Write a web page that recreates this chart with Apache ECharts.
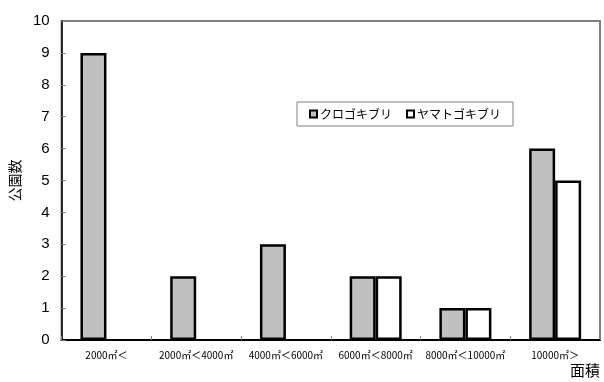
<!DOCTYPE html>
<html>
<head>
<meta charset="utf-8">
<script src="https://cdn.jsdelivr.net/npm/echarts@6/dist/echarts.min.js"></script>
<style>
  html, body { margin: 0; padding: 0; background: #fff; }
  #chart { width: 604px; height: 382px; }
</style>
</head>
<body>
<div id="chart"></div>
<script>
// Park counts by park area for two cockroach species
const areaCategories = ['2000㎡＜', '2000㎡＜4000㎡', '4000㎡＜6000㎡', '6000㎡＜8000㎡', '8000㎡＜10000㎡', '10000㎡＞'];
const kurogokiburi = [9, 2, 3, 2, 1, 6];
const yamatogokiburi = [0, 0, 0, 2, 1, 5];
const seriesNames = ['クロゴキブリ', 'ヤマトゴキブリ'];
const yAxisName = '公園数';
const xAxisName = '面積';

// a count of zero has no bar, so leave it empty instead of drawing a flat outline
const asBars = arr => arr.map(v => (v === 0 ? '-' : v));

const chart = echarts.init(document.getElementById('chart'));
const latin = '"Liberation Sans", Arial, sans-serif';
const cjk = '"Noto Sans CJK JP", sans-serif';

chart.setOption({
  animation: false,
  textStyle: { fontFamily: latin },
  grid: {
    left: 60, right: 4, top: 21, bottom: 42,
    show: true, borderColor: '#808080', borderWidth: 2, backgroundColor: '#fff'
  },
  legend: {
    left: 297, top: 102,
    data: seriesNames,
    icon: 'rect',
    itemWidth: 7, itemHeight: 7,
    itemGap: 14,
    padding: [6, 12, 6, 12],
    borderColor: '#808080', borderWidth: 1,
    backgroundColor: '#fff',
    textStyle: { fontSize: 12, color: '#000', fontFamily: cjk, padding: [0, 0, 0, -2] }
  },
  xAxis: {
    type: 'category',
    data: areaCategories,
    axisLine: { lineStyle: { color: '#000', width: 2 } },
    axisTick: { show: true, inside: true, length: 4, interval: 0, lineStyle: { color: '#808080' } },
    axisLabel: { interval: 0, fontSize: 10, color: '#000', margin: 10, fontFamily: cjk }
  },
  yAxis: {
    type: 'value',
    min: 0, max: 10, interval: 1,
    name: yAxisName,
    nameLocation: 'middle',
    nameRotate: 90,
    nameGap: 28,
    nameTextStyle: { fontSize: 14, color: '#000', fontFamily: cjk },
    axisLine: { show: true, lineStyle: { color: '#000', width: 1.5 } },
    axisTick: { show: true, inside: true, length: 4, lineStyle: { color: '#808080' } },
    splitLine: { show: false },
    axisLabel: { fontSize: 15, color: '#000', margin: 12 }
  },
  graphic: [{
    type: 'text',
    right: 4, top: 363,
    style: { text: xAxisName, fontSize: 15, fill: '#000', fontFamily: cjk }
  }],
  series: [
    {
      name: seriesNames[0], type: 'bar', data: asBars(kurogokiburi),
      barWidth: 26, barGap: '0%',
      itemStyle: { color: '#c0c0c0', borderColor: '#000', borderWidth: 2.5 }
    },
    {
      name: seriesNames[1], type: 'bar', data: asBars(yamatogokiburi),
      barWidth: 26, barGap: '0%',
      itemStyle: { color: '#fff', borderColor: '#000', borderWidth: 2.5 }
    }
  ]
});
</script>
</body>
</html>
